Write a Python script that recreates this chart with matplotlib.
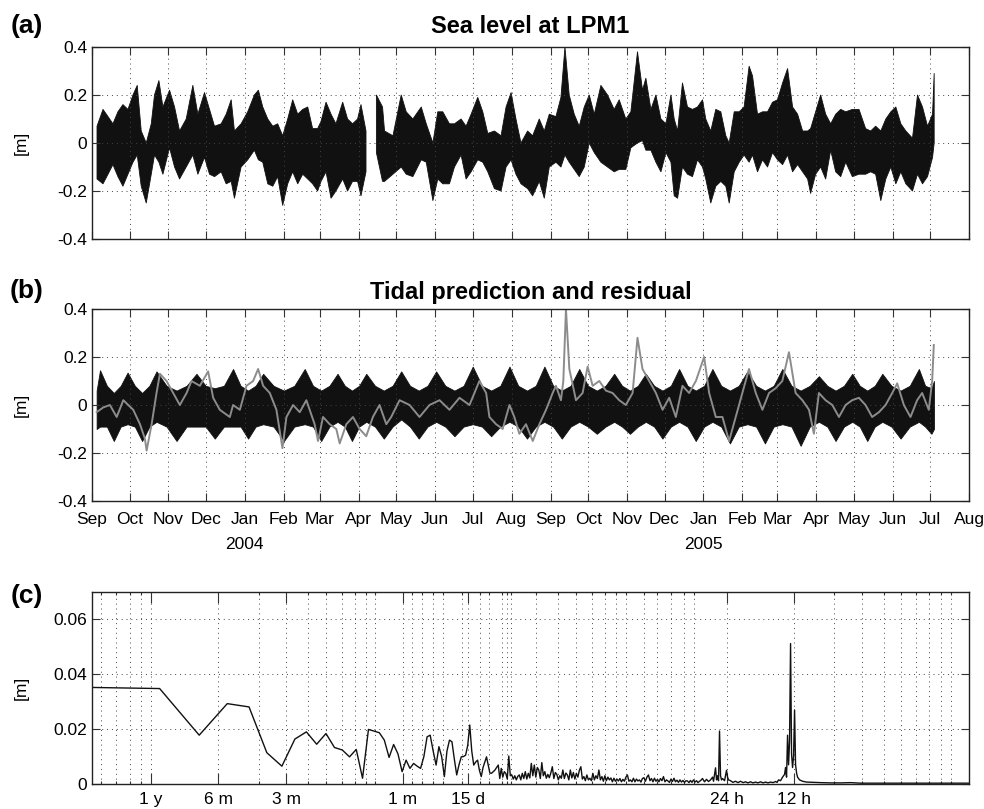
import numpy as np
import matplotlib
matplotlib.use("Agg")
import matplotlib.pyplot as plt
import matplotlib.dates as mdates
from matplotlib.ticker import FixedLocator, FuncFormatter, NullFormatter
import datetime as dt

plt.rcParams['font.family'] = ['Liberation Sans', 'DejaVu Sans']

# ---------------- data ----------------
start_date = dt.datetime(2003, 9, 1)
end_date = dt.datetime(2005, 8, 1)

a_day = [4.0, 8.8, 12.8, 16.7, 20.7, 24.7, 28.7, 32.7, 36.1, 39.3, 43.3, 47.3, 49.9, 53.4, 56.6, 61.9,
         65.9, 69.9, 75.2, 80.5, 84.5, 89.8, 93.8, 97.8, 103.1, 107.1, 111.1, 113.7, 119.0, 124.3, 129.6,
         132.8, 136.3, 140.3, 144.3, 148.2, 152.2, 156.2, 160.2, 164.2, 168.2, 172.2, 176.1, 180.1, 182.8,
         186.8, 190.8, 194.7, 200.1, 204.0, 208.0, 212.0, 214.7, 218.7, 223.0, 227.0, 231.9, 233.5, 240.2,
         246.8, 250.8, 256.1, 262.8, 266.8, 272.1, 276.0, 280.0, 285.3, 289.3, 294.6, 298.6, 302.6, 307.9,
         311.9, 315.9, 321.2, 326.5, 330.5, 334.5, 338.4, 342.4, 347.7, 351.7, 357.0, 361.0, 365.0, 370.3,
         374.3, 377.5, 380.9, 384.9, 388.9, 392.9, 396.9, 400.9, 406.2, 411.5, 416.8, 420.8, 426.1, 430.1,
         435.4, 439.4, 442.1, 446.1, 450.1, 454.1, 458.1, 462.1, 464.7, 467.4, 471.3, 475.3, 479.3, 483.3,
         487.3, 489.9, 493.9, 497.9, 501.9, 505.9, 508.6, 512.6, 516.6, 520.5, 524.5, 527.2, 531.2, 535.2,
         539.2, 543.2, 547.2, 551.2, 555.2, 559.2, 563.2, 567.2, 571.2, 573.6, 577.6, 581.6, 585.6, 589.6,
         593.6, 597.6, 601.6, 606.9, 612.2, 617.5, 621.5, 625.5, 629.6, 633.6, 637.6, 641.6, 645.6, 649.6,
         654.9, 658.9, 662.9, 666.9, 670.9, 672.2]
a_upper = [.07, .14, .11, .08, .13, .16, .14, .20, .24, .05, .00, .08, .20, .26, .15, .22,
           .15, .05, .10, .24, .12, .21, .14, .07, .08, .12, .18, .05, .08, .13, .20,
           .22, .15, .10, .07, .08, .03, .10, .18, .12, .14, .15, .06, .06, .09,
           .17, .12, .08, .17, .10, .08, .10, .16, .05, np.nan, .20, .15, .05, .03,
           .20, .13, .10, .15, .08, .00, .13, .13, .08, .08, .10, .07, .12, .19,
           .13, .04, .05, .03, .15, .21, .10, .00, .05, .03, .10, .05, .12, .11,
           .19, .40, .20, .12, .07, .15, .20, .12, .24, .20, .14, .18, .10, .13,
           .38, .22, .27, .14, .20, .10, .08, .20, .10, .05, .25, .15, .14, .15,
           .18, .10, .05, .14, .13, .03, .00, .13, .13, .15, .32, .28, .12, .13,
           .13, .17, .18, .25, .31, .15, .12, .05, .05, .06, .13, .20, .12, .08,
           .12, .14, .13, .14, .14, .06, .05, .07, .05, .10, .13, .15, .08, .05,
           .02, .20, .15, .07, .12, .29]
a_lower = [-.15, -.17, -.13, -.09, -.14, -.18, -.13, -.08, -.05, -.18, -.25, -.13, -.05, -.08, -.13, -.02,
           -.10, -.15, -.10, -.05, -.13, -.06, -.13, -.14, -.12, -.17, -.16, -.23, -.10, -.07, -.03,
           -.07, -.08, -.17, -.18, -.14, -.26, -.17, -.12, -.17, -.13, -.15, -.17, -.20, -.16,
           -.12, -.23, -.20, -.15, -.20, -.16, -.16, -.22, -.12, np.nan, -.04, -.16, -.16, -.13,
           -.10, -.13, -.14, -.07, -.08, -.24, -.15, -.17, -.17, -.10, -.05, -.15, -.12, -.07,
           -.08, -.12, -.19, -.20, -.10, -.07, -.13, -.17, -.19, -.22, -.16, -.23, -.10, -.08,
           -.10, -.05, -.08, -.11, -.14, -.10, .00, -.04, -.08, -.10, -.12, -.11, -.11, -.02,
           .00, .01, -.03, -.03, -.08, -.12, -.04, -.08, -.22, -.23, -.10, -.13, -.14, -.07,
           -.10, -.15, -.25, -.18, -.16, -.18, -.25, -.12, -.08, -.05, -.08, -.05, -.12, -.07,
           -.10, -.04, -.07, -.09, -.05, -.12, -.09, -.12, -.15, -.21, -.13, -.10, -.15, -.03,
           -.12, -.14, -.08, -.14, -.13, -.13, -.12, -.13, -.24, -.15, -.10, -.17, -.12, -.17,
           -.20, -.13, -.17, -.14, -.06, .00]

# (b) tidal prediction envelope (black): alternating upper / lower spring lobes
b_tide_day = [3.7, 6.4, 11.9, 17.4, 22.9, 28.4, 34.2, 40.0, 45.8, 51.5, 59.5, 67.5, 75.5, 83.4, 90.7,
              98.0, 105.3, 112.6, 118.6, 124.6, 130.6, 136.6, 144.9, 153.2, 161.5, 169.8, 176.4, 182.9,
              189.5, 196.0, 201.8, 207.5, 213.2, 218.9, 225.9, 232.9, 239.9, 246.8, 253.8, 260.8, 267.8,
              274.7, 282.0, 289.3, 296.6, 303.9, 311.3, 318.6, 325.9, 333.2, 340.2, 347.2, 354.2, 361.1,
              368.1, 375.0, 382.0, 388.9, 395.9, 402.9, 409.9, 416.8, 423.1, 429.4, 435.7, 442.0, 448.7,
              455.3, 462.0, 468.6, 475.3, 481.9, 488.6, 495.2, 502.2, 509.2, 516.2, 523.1, 530.1, 537.1,
              544.1, 551.0, 558.3, 565.6, 572.9, 580.2, 586.9, 593.5, 600.2, 606.8, 612.8, 618.8, 624.8,
              630.8, 638.1, 645.4, 652.7, 660.0, 665.0, 670.0, 672.0]
b_tide_upper = [.06, .145, .08, .05, .08, .135, .08, .05, .08, .14, .08, .06, .08, .13, .08,
                .07, .08, .15, .08, .06, .08, .13, .08, .06, .08, .15, .08, .06,
                .08, .13, .08, .06, .08, .13, .08, .06, .08, .14, .08, .06, .08,
                .14, .08, .06, .08, .16, .08, .06, .08, .16, .08, .06, .08, .16,
                .08, .06, .08, .15, .08, .06, .08, .13, .08, .06, .08, .13, .08,
                .06, .08, .15, .08, .06, .08, .15, .08, .06, .08, .14, .08, .06,
                .08, .15, .08, .06, .08, .12, .08, .06, .08, .13, .08, .06, .08,
                .13, .08, .06, .08, .15, .08, .07, .10]
b_tide_lower = [-.10, -.09, -.09, -.15, -.09, -.08, -.09, -.15, -.09, -.07, -.09, -.15, -.09, -.09, -.09,
                -.14, -.09, -.09, -.09, -.14, -.09, -.08, -.09, -.15, -.09, -.08, -.09, -.15,
                -.09, -.07, -.09, -.15, -.09, -.07, -.09, -.14, -.09, -.06, -.09, -.14, -.09,
                -.07, -.09, -.13, -.09, -.08, -.09, -.13, -.09, -.07, -.09, -.14, -.09, -.07,
                -.09, -.14, -.09, -.07, -.09, -.12, -.09, -.07, -.09, -.12, -.09, -.07, -.09,
                -.14, -.09, -.07, -.09, -.15, -.09, -.07, -.09, -.16, -.09, -.08, -.09, -.16,
                -.09, -.08, -.09, -.17, -.09, -.07, -.09, -.15, -.09, -.07, -.09, -.15, -.09,
                -.07, -.09, -.14, -.09, -.07, -.09, -.12, -.10]

# (b) residual (grey)
b_res_day = [3.7, 9.0, 14.3, 19.7, 25.0, 32.9, 38.3, 42.2, 43.6, 47.6, 51.5, 54.2, 59.5, 64.8, 70.1,
             75.5, 79.4, 86.1, 92.7, 96.7, 102.0, 110.0, 112.6, 118.0, 123.3, 128.6, 132.6, 136.6,
             141.9, 147.2, 152.0, 155.2, 160.5, 165.8, 171.1, 177.7, 180.4, 184.4, 189.7, 195.0,
             197.7, 203.0, 208.3, 213.6, 218.9, 224.2, 229.5, 234.9, 238.8, 245.5, 253.5, 261.4,
             269.4, 277.4, 285.3, 293.3, 301.3, 309.2, 314.6, 317.2, 322.5, 327.8, 333.2, 337.1,
             341.1, 346.4, 351.8, 357.1, 362.4, 367.7, 370.3, 374.3, 376.2, 378.3, 381.0, 386.3,
             391.6, 395.6, 399.6, 404.9, 410.2, 415.5, 420.8, 426.1, 431.5, 435.4, 439.4, 444.7,
             450.1, 455.4, 460.7, 466.0, 471.3, 476.6, 482.0, 488.6, 492.6, 497.9, 503.2, 508.5,
             513.8, 519.1, 524.4, 529.8, 535.1, 540.4, 545.7, 551.0, 556.3, 561.6, 567.0, 572.3,
             576.2, 580.2, 585.5, 590.9, 596.2, 601.5, 606.8, 612.1, 617.4, 622.7, 628.1, 633.4,
             638.7, 642.7, 648.0, 653.3, 658.6, 662.6, 667.9, 670.6, 671.9]
b_res = [-.03, -.01, .00, -.05, .02, -.02, -.08, -.14, -.19, -.08, .05, .13, .10, .05, .00,
         .05, .10, .08, .14, .03, -.02, -.05, .00, -.02, .08, .10, .15, .08,
         .05, -.02, -.18, -.05, .00, -.03, .02, -.08, -.15, -.05, -.08, -.10,
         -.16, -.08, -.05, -.10, -.13, -.05, .00, -.08, -.05, .02, .00, -.05,
         .00, .02, -.02, .03, .00, .10, .05, -.05, -.08, -.10, .00, -.05,
         -.12, -.08, -.15, -.08, -.02, .05, .08, .02, .10, .40, .15, .02,
         .05, .16, .08, .10, .06, .05, .02, .00, .05, .28, .15, .10,
         .05, -.02, .03, -.05, .08, .05, .10, .20, .05, -.05, -.05, -.15,
         -.05, .05, .15, .05, -.02, .05, .07, .10, .22, .05, .02, -.02,
         -.12, .05, .02, .00, -.05, .00, .02, .03, .00, -.05, -.03, .00,
         .05, .09, .00, -.05, .02, .05, -.02, .10, .25]

# (c) amplitude spectrum, frequency as harmonic number (cycles per record) and amplitude [m]
record_days = 667.0
spec_k_low = list(range(1, 55)) + [55, 57, 59, 60, 62]
spec_amp_low = [.0352, .0348, .0178, .0293, .0281, .0114, .0065, .0164, .0190, .0145, .0184, .0133,
                .0124, .0099, .0126, .0021, .0199, .0193, .0187, .0160,
                .0097, .0144, .0110, .0045, .0087, .0057, .0075, .0065, .0057, .0100, .0172, .0178,
                .0120, .0069, .0136, .0100, .0027, .0120, .0160, .0154,
                .0090, .0033, .0070, .0099, .0100, .0105, .0140, .0215, .0120, .0069, .0080, .0087,
                .0050, .0027, .0060, .0099, .0040, .0039, .0050]
# dense band between ~2 weeks and ~1.3 days: amplitudes sampled evenly in log-frequency
dense_k_first, dense_k_last = 64.3, 505.6
dense_amp = [.0069, .0020, .0057, .0025, .0045, .0039, .0018, .0102, .0030, .0033,
             .0018, .0030, .0015, .0028, .0033, .0015, .0039, .0020, .0045, .0018,
             .0039, .0022, .0075, .0030, .0069, .0025, .0060, .0051, .0020, .0078,
             .0030, .0045, .0021, .0035, .0023, .0040, .0063, .0020, .0042, .0035,
             .0015, .0030, .0021, .0051, .0020, .0040, .0033, .0015, .0051, .0022,
             .0042, .0018, .0039, .0025, .0050, .0063, .0018, .0027, .0012, .0033,
             .0015, .0021, .0012, .0039, .0015, .0030, .0020, .0051, .0015, .0027,
             .0010, .0030, .0012, .0025, .0015, .0022, .0008, .0021, .0010, .0018,
             .0011, .0020, .0008, .0017, .0010, .0025, .0033, .0010, .0015, .0008,
             .0021, .0008, .0018, .0011, .0015, .0007, .0020, .0023, .0010, .0025,
             .0033, .0012, .0020, .0008, .0021, .0010, .0017, .0008, .0020, .0012,
             .0027, .0008, .0015, .0011, .0006, .0018, .0009, .0021, .0008, .0014,
             .0006, .0015, .0007, .0013, .0006, .0012, .0011, .0005, .0013, .0006,
             .0015, .0007, .0012, .0005, .0010]
spec_k_high = [510.7, 521.3, 532.3, 543.3, 554.6, 566.1, 577.8, 583.8, 595.9, 602.0, 608.2, 614.5,
               620.8, 627.2, 633.7, 640.2, 653.5, 667.0, 673.9, 680.8, 694.9, 712.0, 731.4, 750.0,
               769.9, 790.0, 810.4, 830.0, 853.0, 875.0, 897.9, 920.0, 945.1, 970.0, 994.9, 1020.0,
               1047.2, 1075.0, 1102.3, 1120.0, 1136.7, 1160.3, 1184.3, 1208.8, 1221.3,
               1233.9, 1246.6, 1259.5, 1272.4, 1285.6, 1298.8, 1312.3, 1325.8, 1339.5, 1353.3,
               1367.3, 1381.3, 1410.0, 1454.1, 1515.0, 1611.3, 1749.5, 1938.0, 2147.1, 2378.5,
               2636.3, 3236.3, 3972.4, 4878.3, 5989.4, 7349.0, 8000.0]
spec_amp_high = [.0012, .0020, .0008, .0017, .0009, .0015, .0025, .0010, .0059, .0015, .0030, .0012,
                 .0193, .0030, .0015, .0020, .0012, .0050, .0025, .0015, .0012, .0006, .0010, .0005,
                 .0010, .0005, .0008, .0004, .0008, .0004, .0007, .0004, .0008, .0004, .0007, .0004,
                 .0007, .0005, .0009, .0006, .0015, .0012, .0025, .0035, .0060,
                 .0025, .0178, .0070, .0155, .0512, .0110, .0060, .0100, .0270, .0070,
                 .0040, .0025, .0015, .0010, .0007, .0006, .0005, .0004, .0004, .0005,
                 .0003, .0003, .0003, .0003, .0003, .0003, .0003]

spec_tick_periods_days = [365.25, 182.6, 91.3, 27.55, 14.1, 1.0, 0.5]
spec_tick_labels = ['1 y', '6 m', '3 m', '1 m', '15 d', '24 h', '12 h']

# ---------------- figure ----------------
W, H = 984, 809
fig = plt.figure(figsize=(W / 100, H / 100), dpi=100)

def ax_rect(left, top, right, bottom):
    return [left / W, 1 - bottom / H, (right - left) / W, (bottom - top) / H]

FS = 12.5
grid_kw = dict(color='#444444', linestyle=(0, (1, 4)), linewidth=0.7)

def style_axes(ax):
    ax.tick_params(direction='in', which='both', top=True, right=True, labelsize=FS,
                   width=0.8, color='#333333')
    ax.tick_params(which='major', length=5.5)
    ax.tick_params(which='minor', length=2.5)
    for s in ax.spines.values():
        s.set_linewidth(1.0)
        s.set_color('#222222')

t0 = mdates.date2num(start_date)
t1 = mdates.date2num(end_date)
ytick_fmt = FuncFormatter(lambda v, p: '0' if abs(v) < 1e-9 else '%.1f' % v)

def ts_axes(rect):
    ax = fig.add_axes(rect)
    ax.set_xlim(t0, t1)
    ax.set_ylim(-0.4, 0.4)
    ax.set_yticks([-0.4, -0.2, 0, 0.2, 0.4])
    ax.yaxis.set_major_formatter(ytick_fmt)
    ax.xaxis.set_major_locator(mdates.MonthLocator())
    ax.grid(True, which='major', **grid_kw)
    ax.set_ylabel('[m]', fontsize=FS)
    ax.yaxis.set_label_coords(-0.072, 0.5)
    style_axes(ax)
    return ax

# (a)
axa = ts_axes(ax_rect(92, 47, 969, 239))
axa.fill_between(t0 + np.asarray(a_day), a_lower, a_upper, color='#111111',
                 linewidth=0.6, edgecolor='#111111')
axa.xaxis.set_major_formatter(NullFormatter())
axa.set_title('Sea level at LPM1', fontsize=17, fontweight='bold', pad=10)

# (b)
axb = ts_axes(ax_rect(92, 309, 969, 501))
axb.fill_between(t0 + np.asarray(b_tide_day), b_tide_lower, b_tide_upper, color='#111111',
                 linewidth=0.6, edgecolor='#111111')
axb.plot(t0 + np.asarray(b_res_day), b_res, color='#8c8c8c', linewidth=1.4)
axb.xaxis.set_major_formatter(mdates.DateFormatter('%b'))
axb.tick_params(axis='x', pad=8)
axb.set_title('Tidal prediction and residual', fontsize=17, fontweight='bold', pad=7.5)
for yr in (2004, 2005):
    axb.text(mdates.date2num(dt.datetime(yr, 1, 1)), -0.19, str(yr), fontsize=FS,
             ha='center', va='top', transform=axb.get_xaxis_transform())

# (c)
axc = fig.add_axes(ax_rect(92, 592, 969, 784))
spec_k = np.concatenate([spec_k_low,
                         np.geomspace(dense_k_first, dense_k_last, len(dense_amp)),
                         spec_k_high])
spec_amp = np.concatenate([spec_amp_low, dense_amp, spec_amp_high])
axc.plot(spec_k / record_days, spec_amp, color='#111111', linewidth=1.0)
axc.set_xscale('log')
axc.set_xlim(1 / record_days, 12.0)
axc.set_ylim(0, 0.07)
axc.set_yticks([0, 0.02, 0.04, 0.06])
axc.yaxis.set_major_formatter(FuncFormatter(lambda v, p: '0' if v == 0 else '%.2f' % v))
axc.xaxis.set_major_locator(FixedLocator([1.0 / p for p in spec_tick_periods_days]))
axc.set_xticklabels(spec_tick_labels)
# minor grid periods (days) as drawn in the reference
grid_periods = [608, 521, 452, 403, 120.3, 72.8, 60.5, 51.3, 44.9, 40.1, 36.6,
                25.0, 22.6, 20.2, 18.2, 15.0, 12.5, 11.4, 9.95, 9.46, 9.08, 7.02, 5.60, 4.66,
                3.99, 3.49, 3.09, 2.79, 2.34, 2.03, 1.76, 1.55, 1.40,
                1 / 3, 1 / 4, 1 / 5, 1 / 6, 1 / 7, 1 / 8, 1 / 9, 1 / 10]
axc.xaxis.set_minor_locator(FixedLocator([1.0 / p for p in grid_periods]))
axc.xaxis.set_minor_formatter(NullFormatter())
axc.grid(True, which='both', axis='x', **grid_kw)
axc.grid(True, which='major', axis='y', **grid_kw)
axc.set_ylabel('[m]', fontsize=FS)
axc.yaxis.set_label_coords(-0.072, 0.5)
style_axes(axc)
axc.tick_params(axis='x', which='major', length=8, pad=6)

for lab, (px, py) in {'(a)': (27, 26), '(b)': (27, 291), '(c)': (27, 596)}.items():
    fig.text(px / W, 1 - py / H, lab, fontsize=19, fontweight='bold', ha='center', va='center')

fig.savefig('out.png', dpi=100)
